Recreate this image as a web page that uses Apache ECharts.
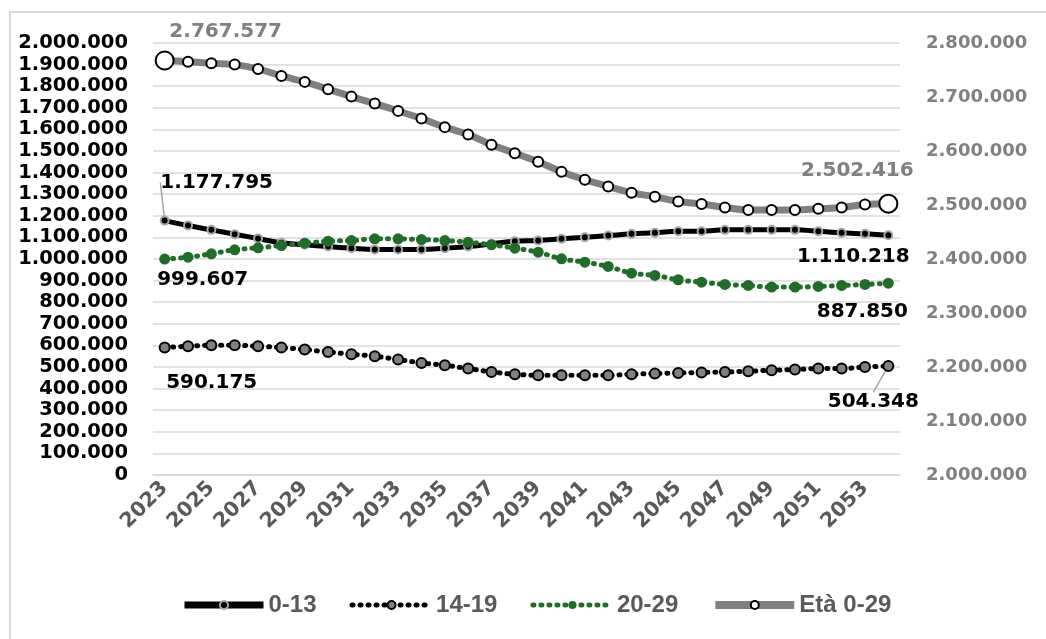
<!DOCTYPE html>
<html>
<head>
<meta charset="utf-8">
<script src="https://cdn.jsdelivr.net/npm/echarts@6/dist/echarts.min.js"></script>
<style>
html,body{margin:0;padding:0;background:#fff;}
#frame{position:absolute;left:9px;top:11px;width:1100px;height:700px;border-left:2px solid #d9d9d9;border-top:2px solid #d9d9d9;}
#chart{position:absolute;left:0;top:0;width:1046px;height:639px;}
</style>
</head>
<body>
<div id="frame"></div>
<div id="chart"></div>
<script>
const years = ['2023','2024','2025','2026','2027','2028','2029','2030','2031','2032','2033','2034','2035','2036','2037','2038','2039','2040','2041','2042','2043','2044','2045','2046','2047','2048','2049','2050','2051','2052','2053','2054'];
const age0_13 = [1177795,1154800,1134900,1114600,1094700,1074900,1065700,1057800,1050000,1043900,1043900,1043900,1050000,1057800,1070000,1082200,1085500,1093300,1100800,1108600,1116400,1121000,1128400,1128400,1134900,1134900,1134900,1134900,1128400,1121000,1116400,1110218];
const age14_19 = [590175,595900,600500,600500,595900,589900,580600,569500,558900,549700,534400,518700,508100,492800,477100,466500,461900,461900,461900,461900,466500,469700,472600,474500,477100,480400,485000,488200,492800,492800,500200,504348];
const age20_29 = [999607,1008400,1024000,1042500,1051700,1062400,1073000,1082200,1085500,1093300,1093300,1090100,1085500,1077600,1065700,1050000,1031400,1001000,985300,965400,934400,923800,903900,892800,882200,877600,869800,869800,873000,877600,882200,887850];
const age0_29 = [2767577,2765400,2762500,2760000,2752000,2739000,2728000,2714500,2700700,2687800,2674300,2660000,2644200,2630500,2611500,2596000,2580000,2561500,2546800,2534400,2522700,2515300,2506600,2501800,2495500,2490700,2490700,2490700,2493000,2495500,2501000,2502416];
const seriesNames = ['0-13','14-19','20-29','Età 0-29'];

function fmt(v){ return String(Math.round(v)).replace(/\B(?=(\d{3})+(?!\d))/g,'.'); }

const last = years.length - 1;
const labFont = {fontFamily:'DejaVu Sans', fontWeight:'bold', fontSize:20};
const guide = {show:true, lineStyle:{color:'#a6a6a6', width:1.5}};
const noGuide = {show:false};

// endpoint labels: [first shift, last shift, first has guide, last has guide, color]
function withLabels(arr, color, guideFirst, guideLast){
  return arr.map((v,i)=>{
    if(i===0 || i===last){
      const g = (i===0 ? guideFirst : guideLast) ? guide : noGuide;
      return {value:v, labelLine:g,
        label:Object.assign({show:true, position:'inside', color:color, formatter:(p)=>fmt(p.value)}, labFont)};
    }
    return v;
  });
}
function layoutFor(first, lastShift){
  return (p)=> p.dataIndex===0 ? {dx:first[0], dy:first[1]} : (p.dataIndex===last ? {dx:lastShift[0], dy:lastShift[1]} : {});
}

const chart = echarts.init(document.getElementById('chart'), null, {renderer:'canvas'});
const option = {
  animation:false,
  backgroundColor:'transparent',
  grid:{left:153, right:146, top:43, bottom:164, containLabel:false},
  legend:{
    bottom:17, left:176,
    itemWidth:79, itemHeight:10, itemGap:33,
    textStyle:{fontFamily:'Liberation Sans', fontWeight:'bold', fontSize:24, color:'#595959'},
    data:[
      {name:'0-13', lineStyle:{width:7}},
      {name:'14-19', lineStyle:{width:5}},
      {name:'20-29', lineStyle:{width:5}},
      {name:'Età 0-29', lineStyle:{width:8}}
    ]
  },
  xAxis:{
    type:'category', data:years, boundaryGap:true,
    axisLine:{show:true, lineStyle:{color:'#d9d9d9', width:1.5}},
    axisTick:{show:false},
    axisLabel:{interval:1, rotate:45, margin:10, color:'#595959', fontFamily:'DejaVu Sans', fontWeight:'bold', fontSize:20.5}
  },
  yAxis:[
    {type:'value', min:0, max:2000000, interval:100000, position:'left',
     axisLine:{show:false}, axisTick:{show:false},
     splitLine:{show:true, lineStyle:{color:'#d9d9d9', width:1.5}},
     axisLabel:{margin:25, color:'#000', fontFamily:'DejaVu Sans', fontWeight:'bold', fontSize:19.5, formatter:fmt}},
    {type:'value', min:2000000, max:2800000, interval:100000, position:'right',
     axisLine:{show:false}, axisTick:{show:false}, splitLine:{show:false},
     axisLabel:{margin:26, color:'#808080', fontFamily:'DejaVu Sans', fontWeight:'bold', fontSize:18, formatter:fmt}}
  ],
  series:[
    {name:'0-13', type:'line', yAxisIndex:0, smooth:0.4, z:2, showAllSymbol:true,
     data:withLabels(age0_13, '#000', true, false),
     labelLayout:layoutFor([52,-38],[-35,22]),
     labelLine:guide,
     lineStyle:{color:'#000', width:5},
     symbol:'circle', symbolSize:8,
     itemStyle:{color:'#000', borderColor:'#a6a6a6', borderWidth:2}},
    {name:'14-19', type:'line', yAxisIndex:0, smooth:0.4, z:3, showAllSymbol:true,
     data:withLabels(age14_19, '#000', false, true),
     labelLayout:layoutFor([47,35],[-15,36]),
     labelLine:guide,
     lineStyle:{color:'#000', width:5, type:[1,7], cap:'round'},
     symbol:'circle', symbolSize:10,
     itemStyle:{color:'#808080', borderColor:'#000', borderWidth:2}},
    {name:'20-29', type:'line', yAxisIndex:0, smooth:0.4, z:4, showAllSymbol:true,
     data:withLabels(age20_29, '#000', false, false),
     labelLayout:layoutFor([38,21],[-26,29]),
     lineStyle:{color:'#1e6e28', width:5, type:[1,7], cap:'round'},
     symbol:'circle', symbolSize:11,
     itemStyle:{color:'#1e6e28', borderWidth:0}},
    {name:'Età 0-29', type:'line', yAxisIndex:1, smooth:0.4, z:5, showAllSymbol:true,
     data:withLabels(age0_29, '#808080', false, false),
     labelLayout:layoutFor([61,-29],[-31,-33]),
     lineStyle:{color:'#808080', width:7},
     symbol:'circle',
     symbolSize:(v,p)=> (p.dataIndex===0||p.dataIndex===last) ? 18 : 10,
     itemStyle:{color:'#fff', borderColor:'#000', borderWidth:2}}
  ]
};
chart.setOption(option);
</script>
</body>
</html>
